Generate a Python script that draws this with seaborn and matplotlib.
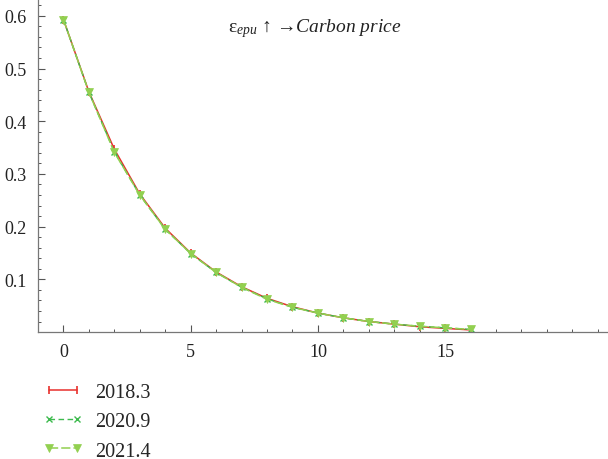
import numpy as np
import pandas as pd
import matplotlib
matplotlib.use("Agg")
import matplotlib.pyplot as plt
import seaborn as sns
from matplotlib.ticker import MultipleLocator

periods = list(range(17))
s2018_3 = [0.593, 0.456, 0.347, 0.262, 0.197, 0.150, 0.114, 0.086, 0.064, 0.048, 0.036, 0.027, 0.020, 0.015, 0.010, 0.007, 0.004]
s2020_9 = [0.593, 0.455, 0.342, 0.260, 0.195, 0.149, 0.113, 0.085, 0.063, 0.047, 0.036, 0.027, 0.020, 0.015, 0.011, 0.008, 0.005]
s2021_4 = [0.593, 0.455, 0.341, 0.260, 0.195, 0.149, 0.113, 0.085, 0.062, 0.047, 0.036, 0.027, 0.020, 0.015, 0.011, 0.008, 0.005]
labels = ["2018.3", "2020.9", "2021.4"]

sns.set_style("white")
plt.rcParams["font.family"] = ["Liberation Serif", "DejaVu Serif"]
plt.rcParams["mathtext.fontset"] = "custom"
plt.rcParams["mathtext.rm"] = "Liberation Serif"
plt.rcParams["mathtext.it"] = "Liberation Serif:italic"

fig = plt.figure(figsize=(6.08, 4.60), dpi=100)
ax = fig.add_axes([0.0625, 0.276, 0.9375, 0.724])

styles = [
    dict(color="#e8302c", marker="|", linestyle="-", markersize=6, markeredgewidth=1.2,
         markeredgecolor="#e8302c", linewidth=1.1),
    dict(color="#3dba4e", marker="x", linestyle=(0, (4, 2.5)), markersize=4.5, markeredgewidth=1.0,
         markeredgecolor="#3dba4e", linewidth=1.0),
    dict(color="#92d050", marker="v", linestyle=(0, (6, 2)), markersize=5.5, markeredgewidth=0.5,
         markeredgecolor="#92d050", linewidth=1.1),
]
for lab, vals, st in zip(labels, [s2018_3, s2020_9, s2021_4], styles):
    d = pd.DataFrame({"x": periods, "y": vals})
    sns.lineplot(data=d, x="x", y="y", ax=ax, label=lab, **st)

ax.set_xlim(-1.0, 21.4)
ax.set_ylim(0, 0.632)
ax.set_xticks([0, 5, 10, 15])
ax.set_yticks([0.1, 0.2, 0.3, 0.4, 0.5, 0.6])
ax.set_yticklabels(["0.1", "0.2", "0.3", "0.4", "0.5", "0.6"])
ax.xaxis.set_minor_locator(MultipleLocator(1))
ax.yaxis.set_minor_locator(MultipleLocator(0.02))
ax.tick_params(which="major", direction="in", length=5, width=0.8, colors="#555555",
               labelsize=13, labelcolor="#222222", pad=8)
ax.tick_params(which="minor", direction="in", length=2.5, width=0.7, colors="#555555")
ax.tick_params(axis="x", which="both", bottom=True)
ax.tick_params(axis="y", which="both", left=True)
for side in ["top", "right"]:
    ax.spines[side].set_visible(False)
for side in ["left", "bottom"]:
    ax.spines[side].set_color("#777777")
    ax.spines[side].set_linewidth(0.9)
ax.set_xlabel("")
ax.set_ylabel("")

ax.text(0.485, 0.915, r"ε$_{\it{epu}}$ ↑ →$\it{Carbon\ price}$", transform=ax.transAxes,
        ha="center", va="center", fontsize=14, color="#222222")

handles, labs = ax.get_legend_handles_labels()
leg = ax.legend(handles, labs, loc="upper left", bbox_to_anchor=(0.07, 0.165), bbox_transform=fig.transFigure,
                frameon=False, fontsize=14.5, handlelength=2.0, labelspacing=0.5, borderaxespad=0,
                handletextpad=0.6, borderpad=0, numpoints=2)

fig.savefig("out.png", dpi=100)
